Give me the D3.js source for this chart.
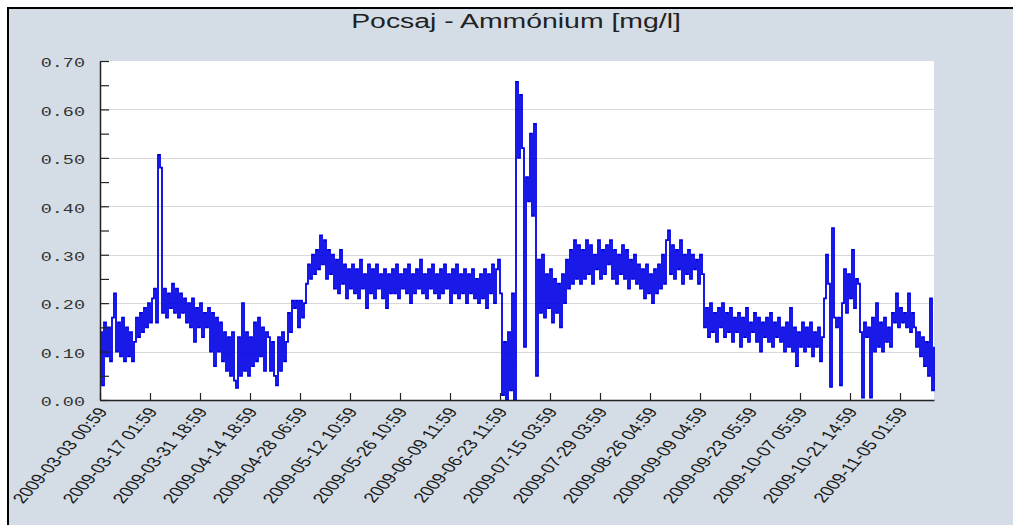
<!DOCTYPE html>
<html>
<head>
<meta charset="utf-8">
<script src="https://cdn.jsdelivr.net/npm/d3@7"></script>
<style>
  html, body { margin: 0; background: #fff; }
  svg { display: block; }
</style>
</head>
<body>
<svg id="chart" width="1013" height="525"></svg>
<script>
// x tick labels, one every TICK_EVERY samples
const tickLabels = [
  '2009-03-03 00:59', '2009-03-17 01:59', '2009-03-31 18:59', '2009-04-14 18:59',
  '2009-04-28 06:59', '2009-05-12 10:59', '2009-05-26 10:59', '2009-06-09 11:59',
  '2009-06-23 11:59', '2009-07-15 03:59', '2009-07-29 03:59', '2009-08-26 04:59',
  '2009-09-09 04:59', '2009-09-23 05:59', '2009-10-07 05:59', '2009-10-21 14:59',
  '2009-11-05 01:59'
];
const TICK_EVERY = 25;

const yTicks = [0, 0.05, 0.10, 0.15, 0.20, 0.25, 0.30, 0.35, 0.40, 0.45, 0.50, 0.55, 0.60, 0.65, 0.70];
const yLabelled = [0, 0.10, 0.20, 0.30, 0.40, 0.50, 0.60, 0.70];

// readings (mg/l)
const marchApril = [
  0.14, 0.03, 0.16, 0.09, 0.15, 0.08, 0.17, 0.22, 0.10, 0.16, 0.09, 0.17,
  0.08, 0.15, 0.09, 0.14, 0.08,
  0.12, 0.17, 0.13, 0.18, 0.14, 0.19, 0.15, 0.20, 0.16, 0.21, 0.23, 0.16,
  0.506, 0.48,
  0.18, 0.23, 0.17, 0.22, 0.19, 0.24, 0.18, 0.23, 0.17, 0.22, 0.18, 0.21, 0.16,
  0.20, 0.15, 0.21, 0.12, 0.19, 0.15, 0.20, 0.13, 0.18, 0.15, 0.19,
  0.10, 0.18, 0.07, 0.17, 0.10, 0.16, 0.08,
  0.14, 0.06, 0.13, 0.05, 0.14, 0.04, 0.025, 0.13, 0.05, 0.20, 0.06, 0.14, 0.05, 0.13, 0.07,
  0.16, 0.08, 0.17, 0.09, 0.15, 0.06, 0.14,
  0.13, 0.06, 0.12, 0.05, 0.03, 0.13, 0.06, 0.14, 0.08, 0.12,
  0.18, 0.14,
  0.205, 0.19, 0.205, 0.15, 0.205, 0.17, 0.20
];
const mayJune = [
  0.24, 0.28, 0.25,
  0.30, 0.26, 0.31, 0.27, 0.34, 0.28, 0.33, 0.25, 0.31, 0.26,
  0.30, 0.23, 0.29, 0.22, 0.31, 0.24, 0.28, 0.21, 0.27, 0.23,
  0.28, 0.22, 0.27, 0.21, 0.29, 0.23, 0.26, 0.19, 0.28, 0.22,
  0.27, 0.21, 0.28, 0.23, 0.26, 0.21, 0.27, 0.19, 0.26, 0.22,
  0.27, 0.22, 0.28, 0.21, 0.26, 0.23, 0.27, 0.22, 0.28, 0.20,
  0.26, 0.22, 0.27, 0.23, 0.29, 0.22, 0.26, 0.21, 0.27, 0.23,
  0.28, 0.22, 0.26, 0.21, 0.27, 0.22, 0.28, 0.23, 0.26, 0.20,
  0.27, 0.22, 0.28, 0.21, 0.26, 0.22, 0.27, 0.20, 0.26, 0.22,
  0.27, 0.21, 0.25, 0.20, 0.26,
  0.21, 0.27, 0.19, 0.26, 0.22, 0.28, 0.20, 0.27, 0.29, 0.22
];
const julyPeak = [
  0.01,
  0.12, 0.00, 0.14, 0.02, 0.22, 0.00,
  0.657, 0.50, 0.63, 0.52, 0.11,
  0.46, 0.41,
  0.55, 0.38, 0.57, 0.05
];
const julyAugust = [
  0.29, 0.18, 0.30, 0.17, 0.26, 0.19, 0.27, 0.16, 0.25, 0.18, 0.24, 0.15,
  0.26, 0.20, 0.29, 0.23, 0.31, 0.24, 0.33, 0.25, 0.32, 0.24,
  0.31, 0.25, 0.33, 0.26, 0.32, 0.24, 0.30, 0.27, 0.33, 0.25,
  0.31, 0.26, 0.32, 0.28, 0.33, 0.25, 0.31, 0.24, 0.30, 0.26,
  0.32, 0.25, 0.31, 0.23, 0.29, 0.25, 0.30, 0.24, 0.28, 0.23,
  0.27, 0.21, 0.28, 0.22, 0.26, 0.20, 0.27, 0.22, 0.28, 0.23,
  0.30, 0.24, 0.33, 0.35, 0.26, 0.32, 0.25, 0.31, 0.27, 0.33,
  0.24, 0.30, 0.26, 0.31, 0.25, 0.30, 0.27, 0.29, 0.24, 0.30, 0.26
];
const septNov = [
  0.15, 0.19, 0.13, 0.20, 0.14, 0.18, 0.12, 0.19, 0.15, 0.20,
  0.13, 0.18, 0.14, 0.19, 0.12, 0.17, 0.14, 0.18, 0.11, 0.17,
  0.13, 0.19, 0.12, 0.16, 0.14, 0.18, 0.12, 0.17, 0.10, 0.16,
  0.13, 0.17, 0.12, 0.18, 0.11, 0.16, 0.13, 0.17, 0.12,
  0.15, 0.10, 0.16, 0.11, 0.19, 0.10, 0.15, 0.07, 0.14, 0.11,
  0.16, 0.10, 0.15, 0.11, 0.16, 0.09, 0.14, 0.11, 0.15, 0.08, 0.13,
  0.21, 0.30, 0.24, 0.027, 0.355, 0.17,
  0.15, 0.17, 0.03,
  0.20, 0.27, 0.18, 0.26, 0.21, 0.31, 0.19, 0.25,
  0.24, 0.14, 0.005, 0.16, 0.13, 0.15, 0.005,
  0.17, 0.10, 0.20, 0.11, 0.16, 0.10, 0.17, 0.12, 0.15, 0.11, 0.18,
  0.16, 0.22, 0.15, 0.19, 0.16, 0.18, 0.15, 0.22, 0.14, 0.18,
  0.15, 0.11, 0.14, 0.09, 0.13, 0.07, 0.12,
  0.05, 0.21, 0.02, 0.11
];

const ammonium = [...marchApril, ...mayJune, ...julyPeak, ...julyAugust, ...septNov];

const WIDTH = 1013;
const HEIGHT = 525;
const PLOT = { left: 100, right: 934, top: 61, bottom: 400 };
const BG = '#d4dde6';
const INK = '#222';
const STRETCH = 1.42; // the whole picture is widened, text too

const svg = d3.select('#chart');

// frame
svg.append('rect')
  .attr('x', 7).attr('y', 8)
  .attr('width', WIDTH - 7).attr('height', HEIGHT - 8)
  .attr('fill', BG);
svg.append('line')
  .attr('x1', 7).attr('x2', WIDTH).attr('y1', 8).attr('y2', 8)
  .attr('stroke', '#000').attr('stroke-width', 2);
svg.append('line')
  .attr('x1', 8).attr('x2', 8).attr('y1', 7).attr('y2', HEIGHT)
  .attr('stroke', '#000').attr('stroke-width', 2);

// plot area
svg.append('rect')
  .attr('x', PLOT.left).attr('y', PLOT.top)
  .attr('width', PLOT.right - PLOT.left).attr('height', PLOT.bottom - PLOT.top)
  .attr('fill', '#fff');

const xScale = d3.scaleLinear()
  .domain([0, ammonium.length - 1])
  .range([PLOT.left, PLOT.right]);

const yScale = d3.scaleLinear()
  .domain([0, 0.7])
  .range([PLOT.bottom, PLOT.top]);

// gridlines
svg.append('g')
  .selectAll('line')
  .data(yLabelled.filter(v => v > 0 && v < 0.7))
  .enter()
  .append('line')
  .attr('x1', PLOT.left)
  .attr('x2', PLOT.right)
  .attr('y1', d => Math.round(yScale(d)) + 0.5)
  .attr('y2', d => Math.round(yScale(d)) + 0.5)
  .attr('stroke', '#d9d9d9')
  .attr('stroke-width', 1);

// series
const line = d3.line()
  .x((_, i) => xScale(i))
  .y(d => yScale(d))
  .curve(d3.curveStepAfter);

svg.append('path')
  .datum(ammonium)
  .attr('fill', 'none')
  .attr('stroke', '#0000e6')
  .attr('stroke-width', 1.8)
  .attr('stroke-linejoin', 'miter')
  .attr('d', line);

// y axis
const yAxis = svg.append('g')
  .attr('transform', `translate(${PLOT.left}, 0)`)
  .call(d3.axisLeft(yScale)
    .tickValues(yTicks)
    .tickSizeInner(-9)
    .tickSizeOuter(0)
    .tickPadding(15)
    .tickFormat(d => yLabelled.some(v => Math.abs(v - d) < 1e-6) ? d3.format('.2f')(d) : ''));

yAxis.select('.domain').attr('stroke', INK).attr('stroke-width', 1.5);
yAxis.selectAll('.tick line').attr('stroke', INK).attr('stroke-width', 1.2);
yAxis.selectAll('.tick text')
  .attr('x', -15 / STRETCH)
  .attr('dy', '0.45em')
  .attr('transform', `scale(${STRETCH}, 1)`)
  .attr('font-family', '"Liberation Mono", "DejaVu Sans Mono", monospace')
  .attr('font-size', 13)
  .attr('fill', '#333');

// x axis
const xAxis = svg.append('g')
  .attr('transform', `translate(0, ${PLOT.bottom})`)
  .call(d3.axisBottom(xScale)
    .tickValues(tickLabels.map((_, i) => i * TICK_EVERY))
    .tickSizeInner(-7)
    .tickSizeOuter(0)
    .tickFormat((_, i) => tickLabels[i]));

xAxis.select('.domain').attr('stroke', INK).attr('stroke-width', 1.5);
xAxis.selectAll('.tick line').attr('stroke', INK).attr('stroke-width', 1.2);
xAxis.selectAll('.tick text')
  .attr('x', 0)
  .attr('y', 0)
  .attr('dy', '0.35em')
  .attr('text-anchor', 'end')
  .attr('transform', `translate(2, 9) scale(${STRETCH}, 1) rotate(-57)`)
  .attr('font-family', '"Liberation Sans", Arial, sans-serif')
  .attr('font-size', 14)
  .attr('fill', '#1a1a1a');

// title
svg.append('text')
  .attr('transform', `translate(516, 28) scale(${STRETCH}, 1)`)
  .attr('text-anchor', 'middle')
  .attr('font-family', '"Liberation Sans", Arial, sans-serif')
  .attr('font-size', 20)
  .attr('fill', '#222')
  .text('Pocsaj - Ammónium [mg/l]');
</script>
</body>
</html>
